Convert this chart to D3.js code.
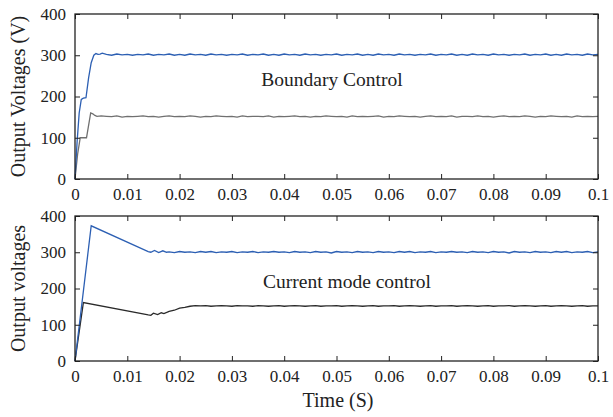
<!DOCTYPE html>
<html>
<head>
<meta charset="utf-8">
<script src="https://cdn.jsdelivr.net/npm/d3@7"></script>
<style>
  body { margin: 0; background: #fff; }
  svg text { font-family: "Liberation Serif", "DejaVu Serif", serif; fill: #222; }
</style>
</head>
<body>
<div class="chart"></div>
<script>
// time axis ticks
var xTicks = [0, 0.01, 0.02, 0.03, 0.04, 0.05, 0.06, 0.07, 0.08, 0.09, 0.1]
var yTicks = [0, 100, 200, 300, 400]

// boundary control: start-up transients [t, V]
var boundBlueStart = [[0, 0], [0.0004, 90], [0.0008, 160], [0.0012, 193], [0.0016, 196], [0.0021, 197],
    [0.0026, 245], [0.0031, 282], [0.0036, 300], [0.0040, 304], [0.0044, 302], [0.0048, 303], [0.0052, 305]]
var boundGrayStart = [[0, 0], [0.0005, 60], [0.001, 100], [0.0022, 100], [0.0030, 160], [0.0034, 158],
    [0.0038, 154], [0.0042, 152], [0.005, 153]]

// boundary control: steady state, one value per 1 ms from 6 ms
var boundBlueSteady = [
    302, 300, 303, 301, 302, 300, 302, 301, 303, 300, 302, 301, 303, 300, 302, 300, 303, 301, 302, 300,
    303, 301, 302, 300, 302, 301, 303, 300, 302, 301, 303, 300, 302, 300, 303, 301, 302, 300, 303, 301,
    302, 300, 302, 301, 303, 300, 302, 301, 303, 300, 302, 300, 303, 301, 302, 300, 303, 301, 302, 300,
    302, 301, 303, 300, 302, 301, 303, 300, 302, 300, 303, 301, 302, 300, 303, 301, 302, 300, 302, 301,
    303, 300, 302, 301, 303, 300, 302, 300, 303, 301, 302, 300, 303, 301, 302]
var boundGraySteady = [
    152, 151, 153, 150, 152, 151, 152, 153, 151, 152, 150, 152, 153, 151, 152, 151, 153, 152, 150, 152,
    151, 153, 152, 151, 152, 150, 153, 151, 152, 152, 151, 153, 150, 152, 151, 152, 153, 151, 152, 150,
    152, 151, 153, 152, 151, 152, 150, 153, 151, 152, 151, 152, 153, 150, 152, 151, 153, 152, 151, 152,
    150, 152, 153, 151, 152, 151, 153, 150, 152, 152, 151, 153, 151, 152, 150, 152, 153, 151, 152, 151,
    153, 152, 150, 152, 151, 153, 152, 151, 152, 150, 153, 151, 152, 151, 152]

// current mode control: transients [t, V]
var currBlueStart = [[0, 0], [0.0031, 373], [0.0140, 302], [0.0145, 300], [0.0152, 305], [0.0160, 299],
    [0.0168, 304], [0.0175, 300]]
var currBlackStart = [[0, 0], [0.0016, 161], [0.0140, 127], [0.0145, 126], [0.0150, 132], [0.0158, 128],
    [0.0165, 133], [0.0170, 131], [0.0180, 137], [0.0190, 140], [0.0200, 146], [0.0210, 148],
    [0.0220, 151], [0.0230, 153]]

// current mode control: steady state, 1 ms steps
var currBlueSteady = [
    301, 299, 302, 300, 301, 299, 302, 300, 302, 299, 301, 300, 302, 299, 301, 300, 302, 299, 301, 300,
    302, 300, 301, 299, 302, 300, 301, 299, 302, 300, 301, 298, 302, 300, 301, 299, 302, 300, 301, 299,
    302, 300, 301, 299, 302, 300, 302, 299, 301, 300, 302, 299, 301, 300, 302, 300, 301, 299, 302, 300,
    301, 299, 302, 300, 301, 298, 302, 300, 301, 299, 302, 300, 301, 299, 302, 300, 302, 299, 301, 300,
    302, 299, 301]
var currBlackSteady = [
    152, 153, 151, 152, 153, 152, 151, 153, 152, 152, 151, 153, 152, 151, 152, 153, 151, 152, 153, 152,
    151, 152, 153, 151, 152, 152, 153, 151, 152, 153, 152, 151, 152, 153, 151, 152, 152, 153, 151, 152,
    153, 152, 151, 152, 153, 151, 152, 152, 153, 151, 152, 153, 152, 151, 152, 153, 151, 152, 152, 153,
    151, 152, 153, 152, 151, 152, 153, 151, 152, 153, 152, 151, 152, 153, 151, 152, 152]

function join(start, steady, t0) {
    return start.concat(steady.map(function (v, i) { return [t0 + i * 0.001, v] }))
}

var panels = [
    { top: 14, bottom: 179, title: "Output Voltages (V)", label: "Boundary Control", lx: 332, ly: 86,
      series: [
        { d: join(boundGrayStart, boundGraySteady, 0.006), c: "#707070" },
        { d: join(boundBlueStart, boundBlueSteady, 0.006), c: "#2c5fb3" }] },
    { top: 216, bottom: 361, title: "Output voltages", label: "Current mode control", lx: 347, ly: 288,
      series: [
        { d: join(currBlackStart, currBlackSteady, 0.024), c: "#2a2a2a" },
        { d: join(currBlueStart, currBlueSteady, 0.018), c: "#2c5fb3" }] }
]

var W = 613, H = 417, left = 75, right = 598

var svg = d3.select(".chart").append("svg")
    .attr("width", W)
    .attr("height", H)

var x = d3.scaleLinear().domain([0, 0.1]).range([left, right])
var fmt = function (d) { return d === 0 ? "0" : String(+d.toFixed(2)) }

panels.forEach(function (p) {
    var y = d3.scaleLinear().domain([0, 400]).range([p.bottom, p.top])
    var g = svg.append("g")

    var line = d3.line()
        .x(function (d) { return x(d[0]) })
        .y(function (d) { return y(d[1]) })

    p.series.forEach(function (s) {
        g.append("path")
            .attr("d", line(s.d))
            .attr("fill", "none")
            .attr("stroke", s.c)
            .attr("stroke-width", 1.3)
    })

    // axes, ticks pointing inwards
    g.append("g").attr("transform", "translate(0," + p.bottom + ")")
        .call(d3.axisBottom(x).tickValues(xTicks).tickFormat(fmt).tickSizeInner(-5).tickSizeOuter(0).tickPadding(9))
    g.append("g").attr("transform", "translate(0," + p.top + ")")
        .call(d3.axisTop(x).tickValues(xTicks).tickFormat("").tickSizeInner(-5).tickSizeOuter(0))
    g.append("g").attr("transform", "translate(" + left + ",0)")
        .call(d3.axisLeft(y).tickValues(yTicks).tickSizeInner(-5).tickSizeOuter(0).tickPadding(9))
    g.append("g").attr("transform", "translate(" + right + ",0)")
        .call(d3.axisRight(y).tickValues(yTicks).tickFormat("").tickSizeInner(-5).tickSizeOuter(0))

    g.selectAll(".domain").remove()
    g.selectAll(".tick line").attr("stroke", "#222").attr("stroke-width", 1)
    g.selectAll(".tick text").attr("font-size", 17).attr("font-family", "Liberation Serif").attr("fill", "#222")

    g.append("rect")
        .attr("x", left).attr("y", p.top)
        .attr("width", right - left).attr("height", p.bottom - p.top)
        .attr("fill", "none").attr("stroke", "#222").attr("stroke-width", 1.3)

    g.append("text")
        .attr("transform", "translate(25," + (p.top + p.bottom) / 2 + ") rotate(-90)")
        .attr("text-anchor", "middle")
        .attr("font-size", 20)
        .text(p.title)

    g.append("text")
        .attr("x", p.lx).attr("y", p.ly)
        .attr("text-anchor", "middle")
        .attr("font-size", 19.5)
        .text(p.label)
})

svg.append("text")
    .attr("x", 338).attr("y", 407)
    .attr("text-anchor", "middle")
    .attr("font-size", 20)
    .text("Time (S)")
</script>
</body>
</html>
